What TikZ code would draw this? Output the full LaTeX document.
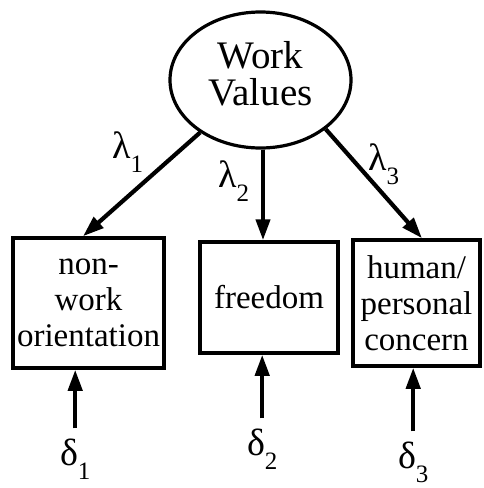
\documentclass[tikz,border=0pt]{standalone}
\usepackage{fontspec}
\setmainfont{Liberation Serif}
\usetikzlibrary{shapes.geometric,arrows.meta}
\newcommand{\idx}[1]{\raisebox{-14pt}{\fontsize{25}{25}\selectfont #1}}

\begin{document}
\begin{tikzpicture}[x=1pt, y=-1pt,
        latent/.style={draw, ellipse, line width=3.2pt, minimum width=181pt, minimum height=136pt, inner sep=0pt, align=center, font=\fontsize{39}{37}\selectfont, text depth=13pt},
        observed/.style={draw, rectangle, line width=3.5pt, inner sep=0pt, align=center, font=\fontsize{33}{36}\selectfont},
        greek/.style={anchor=base west, inner sep=0pt, font=\fontsize{38}{38}\selectfont},
        error/.style={greek, outer xsep=0pt, outer ysep=10pt},
        arr/.style={line width=4.2pt, -{Triangle[length=21pt,width=14pt]}}]
            \useasboundingbox (0,0) rectangle (483,488);

            % the latent factor
            \node[latent] (wv) at (260.5,80) {Work\\Values};

            % the three indicators
            \node[observed, minimum width=151pt, minimum height=130pt] (b1) at (88.5,303) {non-\\work\\orientation};
            \node[observed, minimum width=138pt, minimum height=111pt] (b2) at (269,297.5) {freedom};
            \node[observed, minimum width=127pt, minimum height=126pt] (b3) at (416.5,303) {human/\\personal\\concern};

            % loadings
            \draw[arr] (wv.221) -- ([xshift=-5.5pt]b1.north);
            \draw[arr] ([xshift=2.5pt]wv.south) -- ([xshift=2.5pt]wv.south |- b2.north);
            \draw[arr] (wv.323) -- ([xshift=5.5pt]b3.north);

            \node[greek] (l1) at (112,158) {λ\idx{1}};
            \node[greek] (l2) at (218,187) {λ\idx{2}};
            \node[greek] (l3) at (368,170) {λ\idx{3}};

            % measurement errors
            \node[error] (d1) at (60,465) {δ\idx{1}};
            \node[error] (d2) at (247,455) {δ\idx{2}};
            \node[error] (d3) at (398,468) {δ\idx{3}};

            % connect every error to its indicator
            \foreach \i in {1, 2, 3}
            \draw[arr] (d\i.north) -- (d\i.north |- b\i.south);

        \end{tikzpicture}
\end{document}
